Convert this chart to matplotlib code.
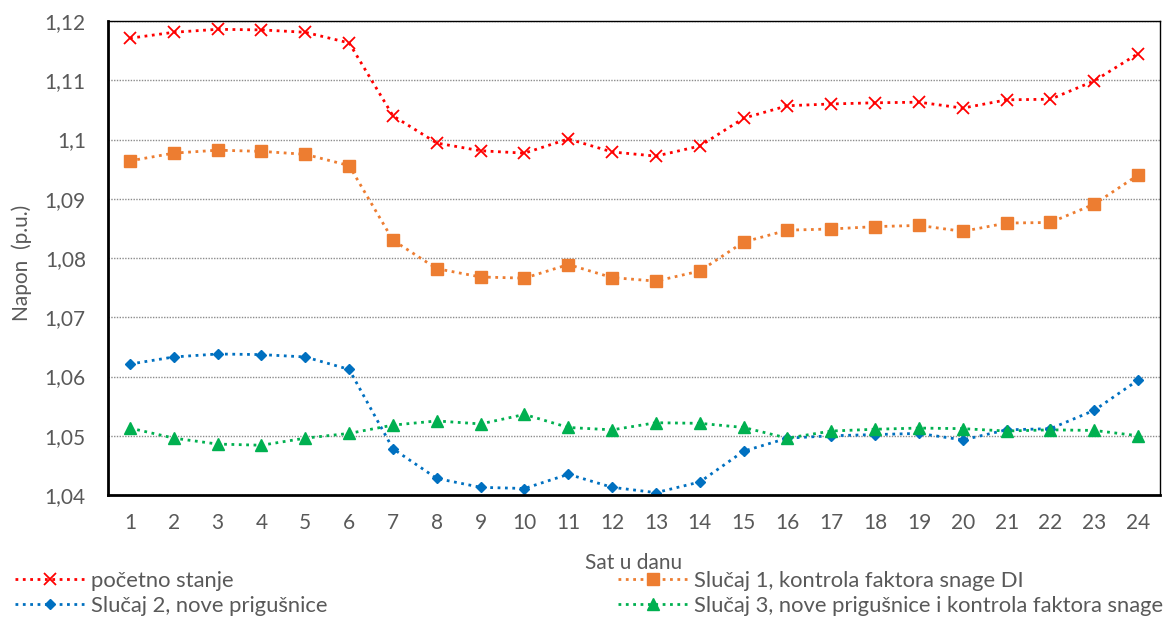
import matplotlib.pyplot as plt
import matplotlib as mpl
from matplotlib.ticker import MultipleLocator, FuncFormatter

hours = list(range(1, 25))

pocetno = [1.1171, 1.1181, 1.1186, 1.1185, 1.1181, 1.1163, 1.1040, 1.0994,
           1.0981, 1.0977, 1.1001, 1.0979, 1.0972, 1.0989, 1.1036, 1.1057,
           1.1060, 1.1062, 1.1063, 1.1053, 1.1067, 1.1068, 1.1099, 1.1145]
slucaj1 = [1.0964, 1.0977, 1.0982, 1.0980, 1.0975, 1.0956, 1.0830, 1.0782,
           1.0768, 1.0766, 1.0789, 1.0767, 1.0761, 1.0778, 1.0827, 1.0847,
           1.0849, 1.0853, 1.0855, 1.0845, 1.0859, 1.0860, 1.0891, 1.0940]
slucaj2 = [1.0621, 1.0633, 1.0638, 1.0637, 1.0633, 1.0612, 1.0478, 1.0428,
           1.0413, 1.0411, 1.0435, 1.0413, 1.0404, 1.0422, 1.0474, 1.0496,
           1.0500, 1.0502, 1.0504, 1.0493, 1.0510, 1.0512, 1.0543, 1.0594]
slucaj3 = [1.0513, 1.0496, 1.0486, 1.0484, 1.0496, 1.0504, 1.0518, 1.0525,
           1.0520, 1.0536, 1.0514, 1.0510, 1.0522, 1.0521, 1.0514, 1.0496,
           1.0508, 1.0511, 1.0513, 1.0512, 1.0508, 1.0510, 1.0509, 1.0500]

labels = ['početno stanje',
          'Slučaj 1, kontrola faktora snage DI',
          'Slučaj 2, nove prigušnice',
          'Slučaj 3, nove prigušnice i kontrola faktora snage']

grey = '#595959'
mpl.rc('font', family=['Lato', 'DejaVu Sans'], size=12)

fg = plt.figure(figsize=(11.72, 6.18), dpi=100)
ax = fg.add_axes([0.0922, 0.199, 0.8976, 0.767])

l0, = ax.plot(hours, pocetno, color='#FF0000', ls=':', lw=2, marker='x',
              ms=8, mew=1.3)
l1, = ax.plot(hours, slucaj1, color='#ED7D31', ls=':', lw=2, marker='s',
              ms=8)
l2, = ax.plot(hours, slucaj2, color='#0070C0', ls=':', lw=2, marker='D',
              ms=5.5)
l3, = ax.plot(hours, slucaj3, color='#00B050', ls=':', lw=2, marker='^',
              ms=8)

ax.set_xlim(0.5, 24.5)
ax.set_ylim(1.04, 1.12)
ax.set_xticks(hours)
ax.yaxis.set_major_locator(MultipleLocator(0.01))
ax.yaxis.set_major_formatter(FuncFormatter(
    lambda v, p: f'{v:.2f}'.rstrip('0').replace('.', ',')))
ax.tick_params(length=0, colors=grey, labelsize=15)
ax.tick_params('x', pad=13)
ax.tick_params('y', pad=16)
ax.grid(axis='y', color='#8c8c8c', ls=(0, (1, 1)), lw=1)
ax.set_axisbelow(True)

for s in ['left', 'bottom']:
    ax.spines[s].set_linewidth(2)
for s in ['top', 'right']:
    ax.spines[s].set_linewidth(1)

ax.set_ylabel('Napon  (p.u.)', color=grey, fontsize=15)
ax.yaxis.set_label_coords(-0.082, 0.49)
ax.yaxis.label.set_va('center')
ax.set_xlabel('Sat u danu', color=grey, fontsize=15)
ax.xaxis.set_label_coords(0.5, -0.143)
ax.xaxis.label.set_va('center')

leg_kw = dict(loc='lower left', frameon=False, fontsize=15.8, handlelength=3.15,
              labelspacing=0.22, handletextpad=0.3, borderpad=0,
              borderaxespad=0)
leg_a = fg.legend([l0, l2], [labels[0], labels[2]],
                  bbox_to_anchor=(15 / 1172, 0.004), **leg_kw)
leg_b = fg.legend([l1, l3], [labels[1], labels[3]],
                  bbox_to_anchor=(618 / 1172, 0.004), **leg_kw)
for leg in (leg_a, leg_b):
    for t in leg.get_texts():
        t.set_color(grey)

fg.savefig('out.png', dpi=100)
